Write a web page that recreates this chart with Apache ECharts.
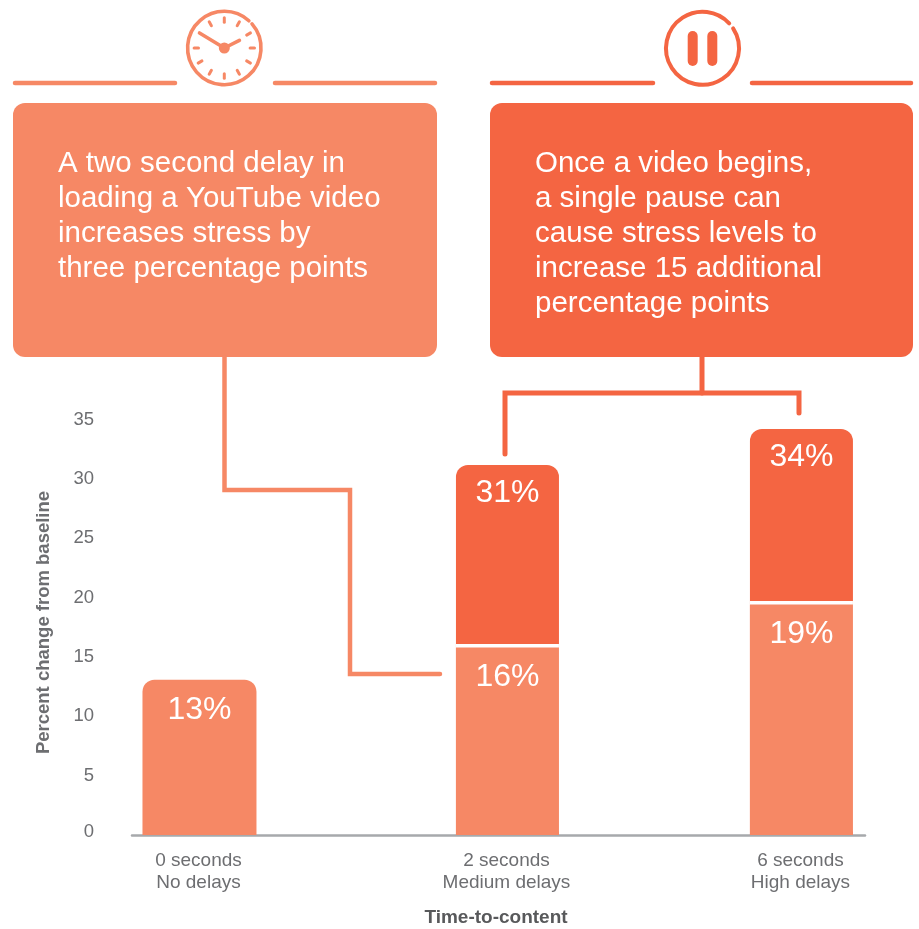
<!DOCTYPE html>
<html>
<head>
<meta charset="utf-8">
<script src="https://cdn.jsdelivr.net/npm/echarts@6/dist/echarts.min.js"></script>
<style>html,body{margin:0;padding:0;background:#fff}#c{width:919px;height:929px}</style>
</head>
<body>
<div id="c"></div>
<script>
// ---- data ----
const categories = ['0 seconds\nNo delays', '2 seconds\nMedium delays', '6 seconds\nHigh delays'];
const noDelayValues = [13];
const noDelayLabels = ['13%'];
const delayValues = [15.7, 19.3];   // drawn height of the lower segment
const delayLabels = ['16%', '19%'];
const totalValues = [31, 34];       // top of the whole bar
const totalLabels = ['31%', '34%'];
const yTicks = [0, 5, 10, 15, 20, 25, 30, 35];
const leftNote = 'A two second delay in\nloading a YouTube video\nincreases stress by\nthree percentage points';
const rightNote = 'Once a video begins,\na single pause can\ncause stress levels to\nincrease 15 additional\npercentage points';

// ---- layout ----
const slots = [0, 22, 43];          // uneven spacing of the three groups
const xMin = -4.82, xMax = 47.54;
const LIGHT = '#F68865', DARK = '#F46542', GREY = '#6D6E71';
const FONT = '"Liberation Sans", Arial, sans-serif';

function line(x1, y1, x2, y2, color, w) {
  return {type: 'line', shape: {x1, y1, x2, y2}, style: {stroke: color, lineWidth: w, lineCap: 'round'}, silent: true};
}
function poly(points, color, w) {
  return {type: 'polyline', shape: {points}, style: {stroke: color, lineWidth: w, lineCap: 'round', lineJoin: 'miter', fill: null}, silent: true};
}
function arc(cx, cy, r, fromDeg, toDeg, color, w) {
  return {type: 'arc', shape: {cx, cy, r, startAngle: fromDeg * Math.PI / 180, endAngle: toDeg * Math.PI / 180, clockwise: true},
    style: {stroke: color, lineWidth: w, lineCap: 'round', fill: null}, silent: true};
}
const graphics = [
  {type: 'rect', shape: {x: 13, y: 103, width: 424, height: 254, r: 12}, style: {fill: LIGHT}, silent: true},
  {type: 'rect', shape: {x: 490, y: 103, width: 423, height: 254, r: 12}, style: {fill: DARK}, silent: true},
  {type: 'text', x: 58, y: 146, style: {text: leftNote, fill: '#fff', font: '29.5px ' + FONT, lineHeight: 35, textVerticalAlign: 'top'}, silent: true},
  {type: 'text', x: 535, y: 146, style: {text: rightNote, fill: '#fff', font: '29.5px ' + FONT, lineHeight: 35, textVerticalAlign: 'top'}, silent: true},
  line(15, 83, 175, 83, LIGHT, 4.5), line(275, 83, 435, 83, LIGHT, 4.5),
  line(492, 83, 653, 83, DARK, 4.5), line(752, 83, 911, 83, DARK, 4.5),
  poly([[224.5, 357], [224.5, 490], [350, 490], [350, 674], [440, 674]], LIGHT, 4.5),
  line(702, 357, 702, 393, DARK, 5),
  poly([[505, 454], [505, 393], [799, 393], [799, 413]], DARK, 5),
  // clock icon
  arc(224.3, 48, 36.7, -41, 312, LIGHT, 3.6),
  line(224.3, 48, 199.5, 33, LIGHT, 3.6),
  line(224.3, 48, 239.4, 40.4, LIGHT, 3.6),
  {type: 'circle', shape: {cx: 224.3, cy: 48, r: 5.5}, style: {fill: LIGHT}, silent: true},
  // pause icon
  arc(702.5, 48.3, 36.5, -33, 317, DARK, 4),
  {type: 'rect', shape: {x: 687.7, y: 31, width: 10, height: 35, r: 5}, style: {fill: DARK}, silent: true},
  {type: 'rect', shape: {x: 707.3, y: 31, width: 10, height: 35, r: 5}, style: {fill: DARK}, silent: true}
];
[1, 2, 3, 4, 5, 6, 7, 8, 9, 11, 12].forEach(function (h) {
  const a = h * Math.PI / 6, s = Math.sin(a), c = Math.cos(a);
  graphics.push(line(224.3 + 25.8 * s, 48 - 25.8 * c, 224.3 + 30.2 * s, 48 - 30.2 * c, LIGHT, 3));
});

function barLabel(texts, dist) {
  return {show: true, position: 'insideTop', distance: dist, color: '#fff', fontFamily: FONT, fontSize: 32,
    formatter: function (p) { return texts[p.dataIndex]; }};
}
const hiddenX = {type: 'value', min: xMin, max: xMax, show: false, splitLine: {show: false}};

const option = {
  animation: false,
  backgroundColor: '#fff',
  graphic: {elements: graphics},
  grid: {left: 132, right: 54, top: 410, bottom: 94, outerBoundsMode: 'none'},
  xAxis: [
    {type: 'value', min: xMin, max: xMax, splitLine: {show: false},
      axisLine: {show: true, lineStyle: {color: '#A7A9AC', width: 2.5}},
      axisTick: {show: false},
      axisLabel: {customValues: slots, margin: 15, color: GREY, fontFamily: FONT, fontSize: 19, lineHeight: 22, align: 'center', padding: [0, 2, 0, 0],
        formatter: function (v) { return categories[slots.indexOf(v)] || ''; }},
      name: 'Time-to-content', nameLocation: 'center', nameGap: 73,
      nameTextStyle: {color: '#58595B', fontFamily: FONT, fontSize: 19, fontWeight: 'bold', padding: [0, 5, 0, 0]}},
    hiddenX
  ],
  yAxis: [
    {type: 'value', position: 'left', min: 0, max: 35.6, show: false, splitLine: {show: false}},
    {type: 'value', position: 'left', min: 0, max: 35.8, splitLine: {show: false},
      axisLine: {show: false}, axisTick: {show: false},
      axisLabel: {customValues: yTicks, margin: 38, color: GREY, fontFamily: FONT, fontSize: 18.5,
        formatter: function (v) { return v === 0 ? '{zero|0}' : String(v); },
        rich: {zero: {color: GREY, fontFamily: FONT, fontSize: 18.5, padding: [0, 0, 7, 0]}}},
      name: 'Percent change from baseline', nameLocation: 'center', nameGap: 79,
      nameTextStyle: {color: GREY, fontFamily: FONT, fontSize: 18.5, fontWeight: 'bold'}}
  ],
  series: [
    {name: 'No delays', type: 'bar', xAxisIndex: 1, yAxisIndex: 0, barWidth: 114,
      data: noDelayValues.map(function (v, i) { return [slots[i], v]; }),
      itemStyle: {color: LIGHT, borderRadius: [12, 12, 0, 0]},
      label: barLabel(noDelayLabels, 14), z: 2},
    {name: 'Pause', type: 'bar', xAxisIndex: 0, yAxisIndex: 0, barWidth: 103, barGap: '-100%',
      data: totalValues.map(function (v, i) { return [slots[i + 1], v]; }),
      itemStyle: {color: DARK, borderRadius: [12, 12, 0, 0]},
      label: barLabel(totalLabels, 12), z: 2},
    {name: 'Delay', type: 'bar', xAxisIndex: 0, yAxisIndex: 0, barWidth: 103, barGap: '-100%',
      data: delayValues.map(function (v, i) { return [slots[i + 1], v]; }),
      itemStyle: {color: LIGHT, shadowColor: '#fff', shadowBlur: 0, shadowOffsetY: -3.5},
      label: barLabel(delayLabels, 14), z: 3}
  ]
};
echarts.init(document.getElementById('c'), null, {renderer: 'canvas'}).setOption(option);
</script>
</body>
</html>
